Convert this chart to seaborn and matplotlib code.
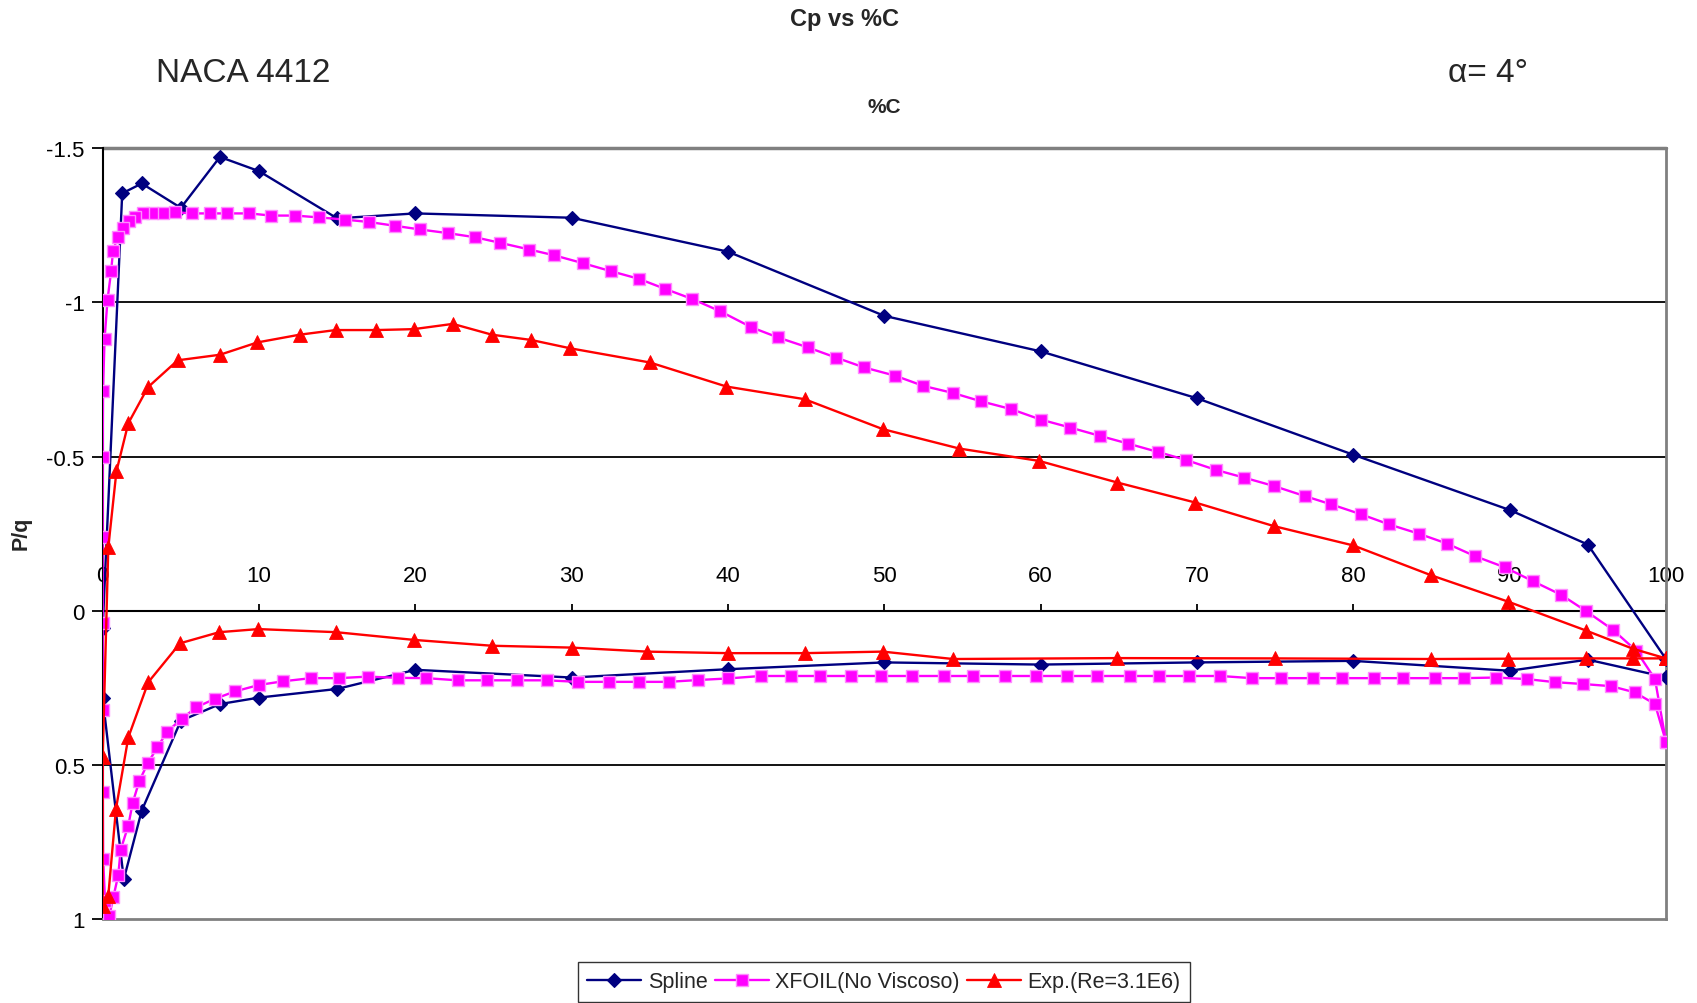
import numpy as np
import pandas as pd
import matplotlib
matplotlib.use("Agg")
import matplotlib.pyplot as plt
import seaborn as sns

# ---------------- data ----------------
series_names = ["Spline", "XFOIL(No Viscoso)", "Exp.(Re=3.1E6)"]

# Spline (upper surface TE -> LE, then lower surface LE -> TE)
spline_x_upper = [100, 95, 90, 80, 70, 60, 50, 40, 30, 20, 15, 10, 7.5, 5, 2.5, 1.25, 0.0]
spline_cp_upper = [0.156, -0.215, -0.327, -0.506, -0.689, -0.841, -0.956, -1.164, -1.274,
                   -1.288, -1.272, -1.425, -1.471, -1.306, -1.385, -1.353, 0.056]
spline_x_lower = [0.0, 1.35, 2.5, 5, 7.5, 10, 15, 20, 30, 40, 50, 60, 70, 80, 90, 95, 100]
spline_cp_lower = [0.282, 0.870, 0.647, 0.356, 0.302, 0.281, 0.253, 0.191, 0.216, 0.189,
                   0.167, 0.174, 0.167, 0.162, 0.194, 0.158, 0.215]

# XFOIL inviscid
xfoil_x_upper = [100, 99.3, 98.1, 96.6, 94.9, 93.3, 91.5, 89.7, 87.8, 86.0,
                 84.2, 82.3, 80.5, 78.6, 76.9, 74.9, 73.0, 71.2, 69.3, 67.5,
                 65.6, 63.8, 61.9, 60.0, 58.1, 56.2, 54.4, 52.5, 50.7, 48.7,
                 46.9, 45.1, 43.2, 41.5, 39.5, 37.7, 36.0, 34.3, 32.5, 30.7,
                 28.9, 27.3, 25.4, 23.8, 22.1, 20.3, 18.7, 17.06, 15.5, 13.86,
                 12.3, 10.77, 9.38, 7.93, 6.86, 5.69, 4.63, 3.88, 3.13, 2.6,
                 2.07, 1.67, 1.28, 0.95, 0.66, 0.54, 0.31, 0.12, 0.02, 0.0,
                 0.0]
xfoil_cp_upper = [0.424, 0.221, 0.129, 0.061, 0.001, -0.052, -0.096, -0.141, -0.177, -0.218,
                  -0.250, -0.280, -0.313, -0.345, -0.372, -0.405, -0.432, -0.457, -0.489, -0.515,
                  -0.542, -0.567, -0.594, -0.620, -0.654, -0.679, -0.706, -0.729, -0.762, -0.789,
                  -0.821, -0.854, -0.886, -0.919, -0.971, -1.011, -1.043, -1.076, -1.101, -1.127,
                  -1.152, -1.171, -1.193, -1.211, -1.224, -1.236, -1.248, -1.260, -1.268, -1.275,
                  -1.281, -1.281, -1.288, -1.288, -1.288, -1.288, -1.292, -1.288, -1.288, -1.289,
                  -1.275, -1.263, -1.242, -1.211, -1.165, -1.100, -1.008, -0.880, -0.714, -0.498,
                  -0.238]
xfoil_x_lower = [0.0, 0.0, 0.01, 0.03, 0.15, 0.42, 0.68, 1.0, 1.15, 1.64,
                 1.92, 2.34, 2.88, 3.5, 4.13, 5.05, 6.0, 7.18, 8.46, 10.0,
                 11.56, 13.33, 15.12, 16.95, 18.87, 20.7, 22.7, 24.6, 26.5, 28.4,
                 30.4, 32.4, 34.3, 36.2, 38.1, 40.0, 42.1, 44.0, 45.9, 47.9,
                 49.8, 51.8, 53.8, 55.7, 57.7, 59.7, 61.7, 63.6, 65.7, 67.6,
                 69.5, 71.5, 73.5, 75.4, 77.4, 79.3, 81.3, 83.2, 85.2, 87.1,
                 89.1, 91.1, 92.9, 94.7, 96.5, 98.0, 99.3, 100]
xfoil_cp_lower = [0.040, 0.320, 0.586, 0.804, 0.939, 0.990, 0.928, 0.856, 0.774, 0.696,
                  0.622, 0.552, 0.494, 0.442, 0.391, 0.350, 0.312, 0.285, 0.261, 0.240,
                  0.228, 0.218, 0.218, 0.213, 0.217, 0.218, 0.225, 0.225, 0.225, 0.225,
                  0.230, 0.230, 0.230, 0.230, 0.224, 0.219, 0.211, 0.211, 0.211, 0.211,
                  0.211, 0.211, 0.211, 0.211, 0.211, 0.211, 0.211, 0.211, 0.211, 0.211,
                  0.211, 0.211, 0.218, 0.218, 0.218, 0.218, 0.218, 0.218, 0.218, 0.218,
                  0.216, 0.221, 0.231, 0.237, 0.244, 0.264, 0.302, 0.424]

# Experimental, Re = 3.1E6
exp_x_upper = [100, 97.9, 94.9, 89.9, 85.0, 80.0, 74.9, 69.9, 64.9, 59.9,
               54.8, 49.9, 44.9, 39.9, 35.0, 29.9, 27.4, 24.9, 22.4, 19.9,
               17.5, 14.9, 12.6, 9.9, 7.5, 4.8, 2.9, 1.64, 0.88, 0.36,
               0.0]
exp_cp_upper = [0.154, 0.123, 0.064, -0.030, -0.115, -0.212, -0.275, -0.351, -0.416, -0.486,
                -0.526, -0.589, -0.686, -0.727, -0.805, -0.851, -0.878, -0.895, -0.930, -0.913,
                -0.910, -0.910, -0.895, -0.870, -0.830, -0.812, -0.725, -0.608, -0.452, -0.206,
                0.474]
exp_x_lower = [0.0, 0.36, 0.85, 1.64, 2.92, 4.95, 7.46, 9.96, 14.93, 19.9,
               24.9, 30.0, 34.8, 40.0, 44.9, 49.9, 54.4, 64.9, 75.0, 85.0,
               89.9, 94.9, 97.9, 100]
exp_cp_lower = [0.955, 0.923, 0.642, 0.410, 0.231, 0.105, 0.069, 0.059, 0.069, 0.094,
                0.113, 0.119, 0.132, 0.137, 0.137, 0.132, 0.156, 0.153, 0.154, 0.156,
                0.155, 0.154, 0.154, 0.154]

x_ticks = [0, 10, 20, 30, 40, 50, 60, 70, 80, 90, 100]
x_tick_labels = ["0", "10", "20", "30", "40", "50", "60", "70", "80", "90", "100"]
y_ticks = [-1.5, -1, -0.5, 0, 0.5, 1]
y_tick_labels = ["-1.5", "-1", "-0.5", "0", "0.5", "1"]
grid_levels = [-1, -0.5, 0.5]

# ---------------- style ----------------
sns.set_style("white")
plt.rcParams['font.family'] = ['Liberation Sans', 'DejaVu Sans']

fig = plt.figure(figsize=(16.97, 10.04), dpi=100)
ax = fig.add_axes([0.0605, 0.0832, 0.9212, 0.7684])

for v in grid_levels:
    ax.axhline(v, color="black", lw=1.3, zorder=1)

styles = [
    dict(color="#000080", marker="D", markersize=7.4, markerfacecolor="#000080",
         markeredgecolor="#000080", markeredgewidth=0.8),
    dict(color="#FF00FF", marker="s", markersize=8.2, markerfacecolor="#FF00FF",
         markeredgecolor="#FF8CFF", markeredgewidth=1.0),
    dict(color="#FF0000", marker="^", markersize=10.5, markerfacecolor="#FF0000",
         markeredgecolor="#FF0000", markeredgewidth=0.6),
]
series = [
    (spline_x_upper + spline_x_lower, spline_cp_upper + spline_cp_lower),
    (xfoil_x_upper + xfoil_x_lower, xfoil_cp_upper + xfoil_cp_lower),
    (exp_x_upper + exp_x_lower, exp_cp_upper + exp_cp_lower),
]

for (xs, cps), name, st in zip(series, series_names, styles):
    df = pd.DataFrame({"x": xs, "cp": cps})
    sns.lineplot(data=df, x="x", y="cp", sort=False, estimator=None, ax=ax,
                 label=name, linewidth=1.7, zorder=3, **st)

ax.set_xlim(0, 100)
ax.set_ylim(1, -1.5)
ax.set_xlabel("")
ax.set_ylabel("")

# x axis crossing at Cp = 0, labels above
ax.spines["top"].set_position(("data", 0))
ax.spines["top"].set_color("black")
ax.spines["top"].set_linewidth(1.5)
ax.spines["top"].set_zorder(2)
ax.xaxis.set_ticks_position("top")
ax.set_xticks(x_ticks)
ax.set_xticklabels(x_tick_labels)
ax.tick_params(axis="x", which="both", top=True, bottom=False, direction="out",
               length=5, width=1.3, pad=13, labelsize=16, colors="black")

ax.set_yticks(y_ticks)
ax.set_yticklabels(y_tick_labels)
ax.tick_params(axis="y", left=True, direction="out", length=8, width=1.3,
               pad=5, labelsize=16, colors="black")

ax.spines["left"].set_color("black")
ax.spines["left"].set_linewidth(1.5)
for s in ["right", "bottom"]:
    ax.spines[s].set_color("#808080")
    ax.spines[s].set_linewidth(2.0)
ax.axhline(-1.5, color="#808080", lw=2.5, clip_on=False, zorder=2)

# legend
handles, labels = ax.get_legend_handles_labels()
if ax.get_legend() is not None:
    ax.get_legend().remove()
leg = fig.legend(handles, labels, loc="lower center", bbox_to_anchor=(0.521, 0.001),
                 ncol=3, frameon=True, fancybox=False, edgecolor="black",
                 fontsize=15.5, handlelength=2.5, columnspacing=0.35, handletextpad=0.3,
                 borderpad=0.45, borderaxespad=0.0)
leg.get_frame().set_linewidth(1.0)

# texts
fig.text(0.4974, 0.9806, "Cp vs %C", ha="center", va="center", fontsize=17, fontweight="bold")
fig.text(0.1435, 0.9267, "NACA 4412", ha="center", va="center", fontsize=24)
fig.text(0.877, 0.9267, "α= 4°", ha="center", va="center", fontsize=24)
fig.text(0.521, 0.8934, "%C", ha="center", va="center", fontsize=15, fontweight="bold")
fig.text(0.0127, 0.4685, "P/q", ha="center", va="center", fontsize=15.5, fontweight="bold",
         rotation=90)

fig.savefig("out.png", dpi=100)
